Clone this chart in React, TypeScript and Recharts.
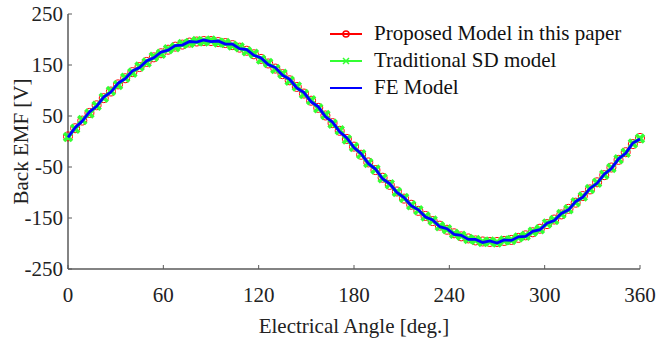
import { Label, Line, LineChart, XAxis, YAxis } from "recharts";

// electrical angle [deg.]
const angles = [
  0, 4.5, 9, 13.5, 18, 22.5, 27, 31.5, 36, 40.5, 45, 49.5, 54, 58.5, 63, 67.5,
  72, 76.5, 81, 85.5, 90, 94.5, 99, 103.5, 108, 112.5, 117, 121.5, 126, 130.5,
  135, 139.5, 144, 148.5, 153, 157.5, 162, 166.5, 171, 175.5, 180, 184.5, 189,
  193.5, 198, 202.5, 207, 211.5, 216, 220.5, 225, 229.5, 234, 238.5, 243,
  247.5, 252, 256.5, 261, 265.5, 270, 274.5, 279, 283.5, 288, 292.5, 297,
  301.5, 306, 310.5, 315, 319.5, 324, 328.5, 333, 337.5, 342, 346.5, 351,
  355.5, 360,
];

// back EMF [V]
const proposed = [
  10, 26, 41, 56, 71, 85, 98, 112, 124, 136, 146, 156, 165, 173, 180, 186, 190,
  194, 196, 197, 197, 195, 193, 189, 184, 178, 171, 162, 153, 143, 132, 120,
  107, 94, 80, 66, 51, 36, 21, 5, -10, -26, -41, -56, -71, -85, -98, -112,
  -124, -136, -146, -156, -165, -173, -180, -186, -190, -194, -196, -197, -197,
  -195, -193, -189, -184, -178, -171, -162, -153, -143, -132, -120, -107, -94,
  -80, -66, -51, -36, -21, -5, 7,
];

const traditional = [
  9, 25, 42, 55, 70, 86, 99, 111, 125, 135, 147, 155, 166, 172, 181, 185, 191,
  193, 197, 196, 198, 194, 193, 188, 185, 177, 172, 161, 154, 142, 133, 119,
  108, 93, 81, 65, 52, 35, 22, 4, -11, -25, -42, -55, -72, -84, -99, -111,
  -125, -135, -147, -155, -166, -172, -181, -185, -191, -193, -197, -196, -198,
  -194, -193, -188, -185, -177, -172, -161, -154, -142, -133, -119, -108, -93,
  -81, -65, -52, -35, -22, -4, 6,
];

const fe = [
  8, 27, 40, 58, 69, 87, 97, 114, 123, 138, 145, 158, 164, 175, 179, 188, 189,
  196, 195, 199, 196, 197, 191, 191, 182, 180, 169, 164, 151, 145, 130, 122,
  105, 96, 78, 68, 49, 38, 19, 7, -12, -24, -43, -54, -73, -83, -100, -110,
  -126, -134, -148, -154, -167, -171, -182, -184, -192, -192, -198, -195, -199,
  -193, -194, -187, -186, -176, -173, -160, -155, -141, -134, -118, -109, -92,
  -82, -64, -53, -34, -23, -3, 5,
];

const xTicks = [0, 60, 120, 180, 240, 300, 360];
const yTicks = [250, 150, 50, -50, -150, -250];

const RED = "#ff0000";
const GREEN = "#33ff33";
const BLUE = "#0000ff";
const AXIS = "#5a5a5a";
const FONT = "'Liberation Serif', 'Times New Roman', serif";

const data = angles.map((angle, i) => ({
  angle,
  proposed: proposed[i],
  traditional: traditional[i],
  fe: fe[i],
}));

function CircleDot(props: any) {
  const { cx, cy } = props;
  if (cx == null || cy == null) return null;
  return <circle cx={cx} cy={cy} fill="none" r={4.5} stroke={RED} strokeWidth={1} />;
}

function CrossDot(props: any) {
  const { cx, cy } = props;
  if (cx == null || cy == null) return null;
  const s = 4;
  return (
    <path
      d={`M${cx - s},${cy - s}L${cx + s},${cy + s}M${cx - s},${cy + s}L${cx + s},${cy - s}`}
      stroke={GREEN}
      strokeWidth={3.5}
    />
  );
}

// the dot layer sits above the lines, so the FE trace is redrawn through it
function FeTrace(props: any) {
  const { index, points } = props;
  if (index !== 0 || !points || !points.length) return null;
  const d = points
    .map((p: any, i: number) => `${i === 0 ? "M" : "L"}${p.x},${p.y}`)
    .join("");
  return <path d={d} fill="none" stroke={BLUE} strokeWidth={2.8} />;
}

const legendItems = [
  { name: "Proposed Model in this paper", color: RED, mark: "circle" },
  { name: "Traditional SD model", color: GREEN, mark: "cross" },
  { name: "FE Model", color: BLUE, mark: "none" },
];

function ChartLegend() {
  return (
    <div
      style={{
        position: "absolute",
        left: 330,
        top: 20,
        fontFamily: FONT,
        fontSize: 21,
        color: "#111",
      }}
    >
      {legendItems.map((item) => (
        <div
          key={item.name}
          style={{ display: "flex", alignItems: "center", height: 27 }}
        >
          <svg height={14} style={{ marginRight: 11 }} width={33}>
            <line
              stroke={item.color}
              strokeWidth={2}
              x1={0}
              x2={32}
              y1={7}
              y2={7}
            />
            {item.mark === "circle" && (
              <circle cx={16} cy={7} fill="none" r={3} stroke={item.color} strokeWidth={1.5} />
            )}
            {item.mark === "cross" && (
              <path d="M13,4L19,10M13,10L19,4" stroke={item.color} strokeWidth={1.5} />
            )}
          </svg>
          <span style={{ lineHeight: "27px", whiteSpace: "nowrap" }}>{item.name}</span>
        </div>
      ))}
    </div>
  );
}

const tickStyle = { fontFamily: FONT, fontSize: 21, fill: "#222" };

export default function App() {
  return (
    <div
      style={{
        position: "absolute",
        left: 0,
        top: 0,
        width: 666,
        height: 339,
        background: "#fff",
      }}
    >
      <LineChart
        data={data}
        height={339}
        margin={{ top: 14, right: 26, bottom: 0, left: 0 }}
        width={666}
      >
        <XAxis
          axisLine={{ stroke: AXIS, strokeWidth: 1.5 }}
          dataKey="angle"
          domain={[0, 360]}
          height={70}
          interval={0}
          tick={tickStyle}
          tickLine={{ stroke: AXIS }}
          tickMargin={22}
          tickSize={-4}
          ticks={xTicks}
          type="number"
        >
          <Label
            dy={-6}
            fill="#222"
            fontFamily={FONT}
            fontSize={21}
            offset={0}
            position="insideBottom"
            value="Electrical Angle [deg.]"
          />
        </XAxis>
        <YAxis
          axisLine={{ stroke: AXIS, strokeWidth: 1.5 }}
          domain={[-250, 250]}
          interval={0}
          tick={tickStyle}
          tickLine={{ stroke: AXIS }}
          tickMargin={9}
          tickSize={-4}
          ticks={yTicks}
          type="number"
          width={68}
        >
          <Label
            angle={-90}
            dx={21}
            fill="#222"
            fontFamily={FONT}
            fontSize={21}
            offset={0}
            position="insideLeft"
            style={{ textAnchor: "middle" }}
            value="Back EMF [V]"
          />
        </YAxis>
        <Line
          dataKey="proposed"
          dot={<CircleDot />}
          isAnimationActive={false}
          stroke={RED}
          strokeWidth={1.5}
          type="linear"
        />
        <Line
          dataKey="traditional"
          dot={<CrossDot />}
          isAnimationActive={false}
          stroke={GREEN}
          strokeWidth={2}
          type="linear"
        />
        <Line
          dataKey="fe"
          dot={<FeTrace />}
          isAnimationActive={false}
          stroke={BLUE}
          strokeWidth={2.8}
          type="linear"
        />
      </LineChart>
      <ChartLegend />
    </div>
  );
}
